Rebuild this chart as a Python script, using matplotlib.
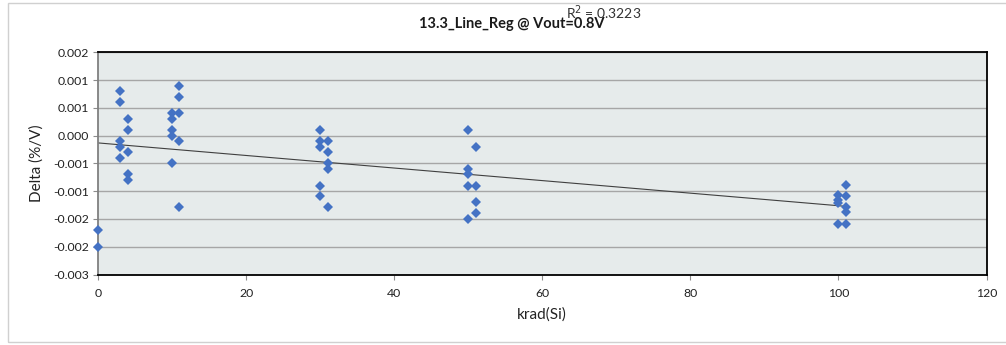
import numpy as np
import matplotlib
matplotlib.use("Agg")
import matplotlib.pyplot as plt
from matplotlib.patches import Rectangle

# ---- data ----
dose_krad = [0, 0,
             3, 3, 3, 3, 3,
             4, 4, 4, 4, 4,
             10, 10, 10, 10, 10,
             11, 11, 11, 11, 11,
             30, 30, 30, 30, 30,
             31, 31, 31, 31, 31,
             50, 50, 50, 50, 50,
             51, 51, 51, 51,
             100, 100, 100, 100,
             101, 101, 101, 101, 101]
delta_pct_per_v = [-0.00199, -0.00237,
                   0.00113, 0.00088, 0.00000, -0.00012, -0.00037,
                   0.00050, 0.00025, -0.00025, -0.00074, -0.00088,
                   0.00063, 0.00050, 0.00025, 0.00012, -0.00050,
                   0.00124, 0.00100, 0.00063, 0.00000, -0.00149,
                   0.00025, 0.00000, -0.00012, -0.00100, -0.00124,
                   0.00000, -0.00025, -0.00050, -0.00062, -0.00149,
                   0.00025, -0.00062, -0.00074, -0.00100, -0.00174,
                   -0.00012, -0.00100, -0.00137, -0.00162,
                   -0.00121, -0.00132, -0.00138, -0.00186,
                   -0.00098, -0.00123, -0.00149, -0.00160, -0.00186]

title_text = "13.3_Line_Reg @ Vout=0.8V"
r2_text = "R$^2$ = 0.3223"
x_label = "krad(Si)"
y_label = "Delta (%/V)"
x_ticks = [0, 20, 40, 60, 80, 100, 120]
y_ticks = [0.002, 0.001375, 0.00075, 0.000125, -0.0005, -0.001125, -0.00175, -0.002375, -0.003]
y_tick_labels = ["0.002", "0.001", "0.001", "0.000", "-0.001", "-0.001", "-0.002", "-0.002", "-0.003"]

plt.rcParams['font.family'] = ['Lato', 'DejaVu Sans']

W, H = 1006, 345
fig = plt.figure(figsize=(W / 100, H / 100), dpi=100)
ax = fig.add_axes([98 / W, (H - 274.5) / H, (986.5 - 98) / W, (274.5 - 52.3) / H])

ax.set_facecolor('#E6EBEB')
ax.set_xlim(0, 120)
ax.set_ylim(-0.003, 0.002)

ax.set_yticks(y_ticks)
ax.set_yticklabels(y_tick_labels)
ax.set_xticks(x_ticks)
ax.grid(axis='y', color='#A6A6A6', lw=1.0)
ax.set_axisbelow(True)

for side in ['top', 'right', 'bottom']:
    ax.spines[side].set_color('black')
    ax.spines[side].set_linewidth(1.3)
ax.spines['left'].set_color('#808080')
ax.spines['left'].set_linewidth(1.3)

ax.tick_params(axis='both', direction='out', length=3.5, width=0.8, color='#8C8C8C',
               labelsize=8.8, labelcolor='#222222')
ax.tick_params(axis='y', pad=3)
ax.tick_params(axis='x', pad=6)

ax.plot(dose_krad, delta_pct_per_v, linestyle='none', marker='D', markersize=5.4,
        color='#4472C4', markeredgewidth=0, clip_on=False, zorder=3)

# linear trendline
xs = np.array(dose_krad, dtype=float)
ys = np.array(delta_pct_per_v, dtype=float)
slope, icpt = np.polyfit(xs, ys, 1)
xl = np.array([xs.min(), xs.max()])
ax.plot(xl, slope * xl + icpt, color='#404040', lw=0.8, zorder=2)

ax.set_xlabel(x_label, fontsize=11, color='#222222', labelpad=6)
ax.set_ylabel(y_label, fontsize=11, color='#222222', labelpad=7)

fig.text(511.7 / W, 1 - 24 / H, title_text, ha='center', va='center',
         fontsize=10.5, fontweight='bold', color='#1a1a1a')
fig.text(566 / W, 1 - 13 / H, r2_text, ha='left', va='center',
         fontsize=10, color='#333333')

fig.add_artist(Rectangle((8 / W, 3 / H), 1.2, (342 - 3) / H, transform=fig.transFigure,
                         fill=False, ec='#D0D0D0', lw=1.0))

fig.savefig('out.png', dpi=100)
